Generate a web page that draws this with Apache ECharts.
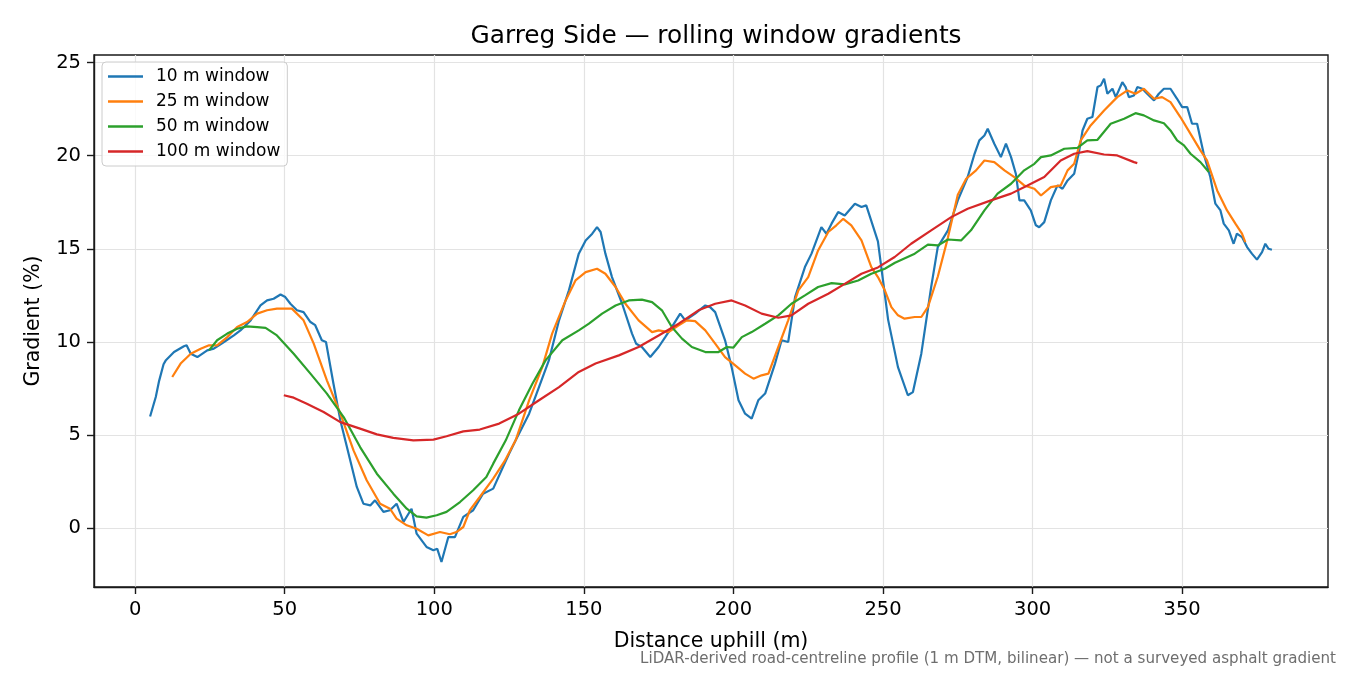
<!DOCTYPE html>
<html>
<head>
<meta charset="utf-8">
<script src="https://cdn.jsdelivr.net/npm/echarts@6/dist/echarts.min.js"></script>
<style>
html,body{margin:0;padding:0;background:#fff;}
#chart{width:1350px;height:675px;}
</style>
</head>
<body>
<div id="chart"></div>
<script>
const seriesNames = ['10 m window', '25 m window', '50 m window', '100 m window'];
const xTicks = [0, 50, 100, 150, 200, 250, 300, 350];
const yTicks = [0, 5, 10, 15, 20, 25];

const dist10 = [5,6.9,8,9.5,10.2,13,16.3,17.2,18.6,20.8,24.1,26.3,29.7,33,35.2,38.6,41.9,44.1,46.3,48.6,50.2,51.9,54.1,56.3,58.6,60.2,62.4,63.8,66.3,68.6,70.8,74.1,76.3,78.6,80.2,83,85.2,87.4,89.7,92.4,94.1,97.4,99.7,101,102.4,104.7,106.9,109.7,113,116.3,119.7,123,125,127.2,131.7,135,138.3,141.7,145,148.3,150.6,152.8,154.4,155.6,157.2,159.4,162.8,166.1,167.5,169.4,172.2,175,177.2,179.4,182.2,183.9,187.2,190.6,192.2,193.9,197.2,199.4,201.7,203.9,206.1,208.3,210.6,213.9,216.1,218.3,220.6,223.9,226.1,229.4,231.1,232.8,235,237.2,240.6,242.8,244.4,248.3,251.7,255,258.3,260,262.8,266.1,268.3,271.7,275,278.3,280.6,282.2,283.9,285,287.2,289.4,291.1,292.8,294.4,295.6,297.2,299.4,301.1,302.2,303.9,306.1,308.3,310,311.7,313.9,315.6,316.7,318.3,320,321.7,322.8,323.9,325,326.7,327.8,330,331.1,332.2,333.9,335,336.7,338.3,340.6,342.2,343.9,346.1,348.3,350,351.7,353.3,355,357.2,359.4,361.1,362.8,363.9,365.6,367.2,368.3,370,371.7,373.3,375,376.7,377.8,378.9,380];
const grad10 = [6.0,7.05,7.9,8.8,9.0,9.46,9.77,9.82,9.37,9.19,9.55,9.64,10.0,10.35,10.62,11.16,11.96,12.23,12.32,12.55,12.41,12.05,11.7,11.6,11.07,10.9,10.09,10.0,7.76,5.79,4.36,2.22,1.32,1.23,1.5,0.88,0.97,1.32,0.34,1.05,-0.29,-1.0,-1.18,-1.1,-1.81,-0.47,-0.47,0.61,0.97,1.86,2.13,3.3,4.0,4.72,6.15,7.58,9.01,11.16,12.77,14.74,15.45,15.81,16.16,15.9,14.74,13.48,12.05,10.45,9.9,9.73,9.19,9.73,10.26,10.8,11.52,11.16,11.52,11.96,11.87,11.6,10.09,8.65,6.87,6.15,5.89,6.87,7.23,8.84,10.09,10.0,12.41,14.02,14.74,16.16,15.81,16.35,16.97,16.79,17.42,17.24,17.33,15.4,11.2,8.65,7.14,7.31,9.37,12.95,15.09,15.99,17.6,18.85,20.1,20.82,21.08,21.44,20.64,19.92,20.64,19.92,19.03,17.6,17.6,17.06,16.26,16.16,16.43,17.6,18.4,18.22,18.67,19.03,20.28,21.35,21.98,22.07,23.68,23.77,24.13,23.32,23.59,23.14,23.94,23.68,23.14,23.23,23.68,23.59,23.32,22.96,23.32,23.59,23.59,23.05,22.6,22.6,21.71,21.71,20.1,18.85,17.42,17.06,16.35,15.99,15.27,15.81,15.63,15.09,14.74,14.42,14.82,15.27,15.0,14.95];

const dist25 = [12.4,15.2,18.6,21.9,24.7,27.4,30.8,34.1,37.4,40.8,44.1,47.4,50.2,52.4,56.3,59.7,64.1,68.6,73,77.4,81.9,85.2,87.4,90.8,94.1,98,101.9,105.2,107.4,109.7,111.9,115.2,119.7,123.5,127.2,131.7,136.1,139.4,143.9,147.2,150.6,154.4,157.2,160.6,163.9,168.3,172.8,175,178.3,181.7,184.4,187.2,190.6,193.9,197.2,200.6,203.9,206.7,209.4,211.7,215,218.3,221.7,225,228.3,231.7,234.4,236.7,239.4,242.8,246.1,248.3,250.6,252.8,255,257.2,260.6,262.8,265,268.3,271.7,275,277.8,281.1,283.9,287.2,290.6,293.9,297.2,300.6,302.8,306.1,309.4,311.7,313.9,316.1,319.4,323.9,328.3,331.7,334.4,337.2,340.6,343.3,346.1,349.4,352.8,356.1,358.3,361.7,365,367.8,370,371.1];
const grad25 = [8.12,8.84,9.37,9.64,9.82,9.82,10.26,10.8,11.07,11.52,11.7,11.79,11.79,11.79,11.16,9.91,7.94,6.15,4.18,2.58,1.32,1.05,0.52,0.16,-0.02,-0.38,-0.2,-0.32,-0.2,0.07,0.97,1.68,2.67,3.6,4.72,6.87,8.65,10.45,12.23,13.3,13.75,13.93,13.66,12.95,12.05,11.16,10.53,10.62,10.53,10.89,11.16,11.12,10.62,9.91,9.19,8.74,8.3,8.03,8.21,8.3,9.73,11.16,12.77,13.48,14.91,15.9,16.26,16.61,16.26,15.45,14.02,13.48,12.77,11.87,11.43,11.25,11.34,11.34,11.87,13.5,15.6,17.9,18.76,19.21,19.74,19.65,19.21,18.85,18.4,18.22,17.86,18.31,18.4,19.21,19.56,20.82,21.62,22.42,23.14,23.5,23.32,23.59,23.05,23.14,22.87,22.07,21.17,20.28,19.74,18.13,17.06,16.35,15.81,15.36];

const dist50 = [24.7,27.4,30.8,34.1,37.4,40.8,43.6,47.4,53,58.6,64.1,69.7,75.2,80.8,86.3,90.8,94.1,97.4,100.8,104.1,108.6,113,117.4,119.7,123.9,128.3,132.8,137.2,142.8,148.3,151.7,156.1,160.6,165,169.4,172.8,176.1,179.4,182.8,186.1,190.6,195,197.8,200,202.8,206.1,210.6,215,219.4,223.9,228.3,232.8,237.2,241.7,246.1,250.6,254,260.6,265,268.3,271.7,276.1,279.4,283.9,288.3,292.8,297.2,300.6,302.8,306.1,310.6,315,318.3,321.7,326.1,330.6,334.4,337.2,340.6,343.9,346.1,348.3,350.6,352.8,356.1,358.9];
const grad50 = [9.55,10.09,10.45,10.71,10.84,10.8,10.76,10.35,9.37,8.3,7.23,5.97,4.36,2.93,1.86,1.05,0.64,0.57,0.7,0.88,1.41,2.04,2.75,3.47,4.72,6.33,7.76,9.01,10.09,10.62,10.98,11.52,11.96,12.23,12.27,12.14,11.7,10.8,10.18,9.73,9.46,9.46,9.73,9.7,10.26,10.53,10.98,11.43,12.05,12.5,12.95,13.16,13.09,13.3,13.66,13.93,14.25,14.74,15.22,15.18,15.5,15.45,15.99,17.06,17.96,18.49,19.21,19.56,19.92,20.01,20.37,20.42,20.82,20.85,21.71,21.98,22.28,22.16,21.89,21.74,21.35,20.82,20.55,20.1,19.65,19.12];

const dist100 = [49.7,53,57.4,63,68.6,75.2,80.8,86.3,93,99.7,104.1,109.7,115.2,121.7,128.3,135,141.7,148.3,153.9,161.7,168.3,175,181.7,188.3,193.9,199.4,203.9,209.4,215,219.4,225,231.7,237.2,242.8,248.3,253.9,259.4,266.1,272.8,278.3,286.1,292.8,298.3,303.9,309.4,313.9,318.3,323.9,328.3,333.9,335];
const grad100 = [7.14,7.01,6.69,6.24,5.7,5.35,5.04,4.85,4.72,4.76,4.94,5.2,5.3,5.62,6.15,6.87,7.58,8.39,8.84,9.28,9.73,10.35,10.98,11.7,12.05,12.23,11.96,11.52,11.3,11.43,12.05,12.59,13.12,13.66,14.0,14.56,15.27,15.99,16.7,17.15,17.6,17.96,18.4,18.85,19.74,20.1,20.24,20.06,20.01,19.65,19.6];

const colors = ['#1f77b4', '#ff7f0e', '#2ca02c', '#d62728'];
const allDist = [dist10, dist25, dist50, dist100];
const allGrad = [grad10, grad25, grad50, grad100];

const font = 'DejaVu Sans';
const chart = echarts.init(document.getElementById('chart'), null, {renderer: 'canvas'});

const series = seriesNames.map((name, k) => ({
  name: name,
  type: 'line',
  data: allDist[k].map((d, i) => [d, allGrad[k][i]]),
  showSymbol: false,
  symbol: 'none',
  smooth: false,
  lineStyle: {color: colors[k], width: 2.2},
  itemStyle: {color: colors[k]},
  animation: false
}));

chart.setOption({
  animation: false,
  backgroundColor: '#ffffff',
  title: {
    text: 'Garreg Side \u2014 rolling window gradients',
    left: 711, top: 19, textAlign: 'center',
    textStyle: {fontFamily: font, fontSize: 24.8, fontWeight: 'normal', color: '#000'}
  },
  legend: {
    orient: 'vertical', left: 102, top: 62,
    icon: 'rect', itemWidth: 35, itemHeight: 2.5, itemGap: 6,
    padding: [5, 7, 5, 6],
    backgroundColor: 'rgba(255,255,255,0.8)',
    borderColor: '#cccccc', borderWidth: 1, borderRadius: 4,
    textStyle: {fontFamily: font, fontSize: 17, color: '#000', padding: [0, 0, 0, 8], lineHeight: 19},
    data: seriesNames
  },
  grid: {left: 94, right: 22, top: 55, bottom: 88, show: true, borderColor: '#1a1a1a', borderWidth: 1.4, containLabel: false},
  xAxis: {
    type: 'value', min: -13.75, max: 398.75,
    name: 'Distance uphill (m)', nameLocation: 'middle', nameGap: 44,
    nameTextStyle: {fontFamily: font, fontSize: 20.5, color: '#000'},
    axisLine: {show: true, onZero: false, lineStyle: {color: '#1a1a1a', width: 1.4}},
    axisTick: {show: true, inside: false, length: 7, customValues: xTicks, lineStyle: {color: '#1a1a1a', width: 1.4}},
    axisLabel: {customValues: xTicks, margin: 13, fontFamily: font, fontSize: 19.5, color: '#000'},
    splitLine: {show: true, lineStyle: {color: '#e3e3e3', width: 1.2}}
  },
  yAxis: {
    type: 'value', min: -3.15, max: 25.4,
    name: 'Gradient (%)', nameLocation: 'middle', nameGap: 50, nameRotate: 90,
    nameTextStyle: {fontFamily: font, fontSize: 20.5, color: '#000'},
    axisLine: {show: true, onZero: false, lineStyle: {color: '#1a1a1a', width: 1.4}},
    axisTick: {show: true, inside: false, length: 7, customValues: yTicks, lineStyle: {color: '#1a1a1a', width: 1.4}},
    axisLabel: {customValues: yTicks, margin: 13, fontFamily: font, fontSize: 19.5, color: '#000'},
    splitLine: {show: true, lineStyle: {color: '#e3e3e3', width: 1.2}}
  },
  graphic: [{
    type: 'text', right: 14, top: 652,
    style: {text: 'LiDAR-derived road-centreline profile (1 m DTM, bilinear) \u2014 not a surveyed asphalt gradient',
      fontFamily: font, fontSize: 15.1, fill: '#6e6e6e'}
  }],
  series: series
});
</script>
</body>
</html>
